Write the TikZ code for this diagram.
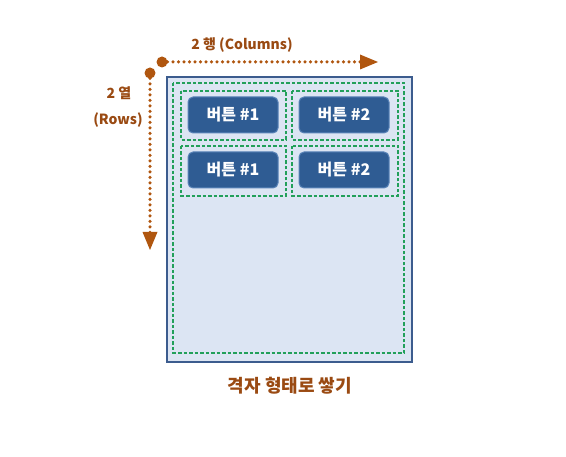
\documentclass[tikz,border=0pt]{standalone}
\usepackage{fontspec}
\setmainfont{Noto Sans CJK KR}
\usetikzlibrary{arrows.meta,calc}
\definecolor{brn}{HTML}{B0560F}
\definecolor{brntxt}{HTML}{9A4A12}
\definecolor{btnfill}{HTML}{2F5C93}
\definecolor{btnline}{HTML}{5A84B8}
\definecolor{panelfill}{HTML}{DCE5F3}
\definecolor{panelline}{HTML}{3C5C8E}
\definecolor{grn}{HTML}{22A05A}
\tikzset{
  btn/.style={draw=btnline, line width=1pt, fill=btnfill, rounded corners=5pt, minimum width=90pt, minimum height=36pt, text=white, font=\bfseries\fontsize{16}{18}\selectfont, inner sep=0pt},
  gdash/.style={draw=grn, line width=1.6pt, dash pattern=on 3.5pt off 2pt, inner sep=0pt},
  lbl/.style={text=brntxt, font=\bfseries\fontsize{14}{16}\selectfont, inner sep=0pt},
  dotline/.style={draw=brn, line width=3.5pt, line cap=round, dash pattern=on 0pt off 5.5pt},
  tip/.style={draw=none, fill=brn},
  dot/.style={circle, fill=brn, minimum size=11pt, inner sep=0pt},
}
\begin{document}
\begin{tikzpicture}[x=1pt,y=-1pt]
\useasboundingbox (0,0) rectangle (566,457);
\fill[white] (0,0) rectangle (566,457);
% panel
\node[draw=panelline, line width=2pt, fill=panelfill, minimum width=245pt, minimum height=285pt, inner sep=0pt] (panel) at (289.5,220) {};
\draw[gdash] (173,83) rectangle (404,353);
% buttons
\node[btn] (b11) at (233,115) {버튼 \#1};
\node[btn] (b12) at (344,115) {버튼 \#2};
\node[btn] (b21) at (233,170) {버튼 \#1};
\node[btn] (b22) at (344,170) {버튼 \#2};
% cells
\draw[gdash] (181,91) rectangle (286,140);
\draw[gdash] (292,91) rectangle (398,140);
\draw[gdash] (181,146) rectangle (286,196);
\draw[gdash] (292,146) rectangle (398,196);
% arrows
\node[dot] (hd) at (162,62) {};
\coordinate (hend) at (362,62);
\coordinate (htip) at (378,62);
\draw[dotline] (hd.center) -- (hend);
\fill[tip] ($(hend)+(-2,-7.5)$) -- (htip) -- ($(hend)+(-2,7.5)$) -- cycle;
\node[dot] (vd) at (150,73) {};
\coordinate (vend) at (150,234);
\coordinate (vtip) at (150,250);
\draw[dotline] (vd.center) -- (vend);
\fill[tip] ($(vend)+(-7.5,-2)$) -- (vtip) -- ($(vend)+(7.5,-2)$) -- cycle;
% labels
\node[lbl] (cols) at (242,45) {2 행 (Columns)};
\node[lbl] (rows1) at (119,93) {2 열};
\node[lbl] (rows2) at (118,120) {(Rows)};
\node[text=brntxt, font=\bfseries\fontsize{18}{20}\selectfont, inner sep=0pt] (cap) at (290,386) {격자 형태로 쌓기};
\end{tikzpicture}
\end{document}
